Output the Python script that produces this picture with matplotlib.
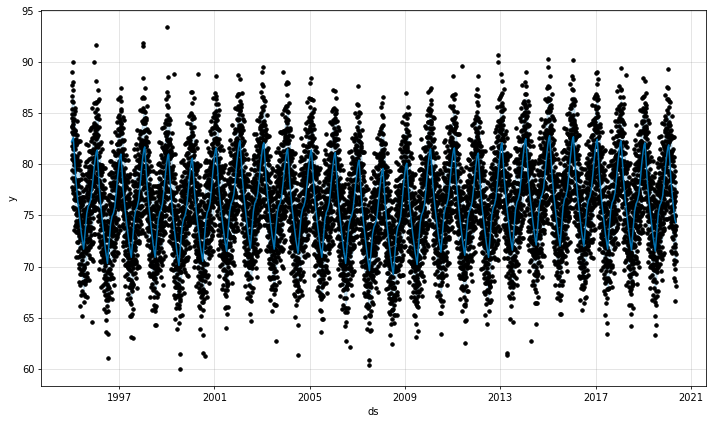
import numpy as np
import matplotlib
matplotlib.use('Agg')
import matplotlib.pyplot as plt
import matplotlib.dates as mdates

plt.rcParams['font.family'] = ['Liberation Sans Narrow', 'DejaVu Sans']

# yearly extremes of the fitted line
years = list(range(1995, 2021))
peak_vals = [82.6, 81.4, 81.0, 81.7, 81.0, 80.6, 81.6, 82.3, 82.1, 81.5,
             81.4, 81.15, 80.4, 79.6, 80.1, 81.5, 81.6, 81.1, 82.1, 82.5,
             82.8, 82.7, 82.45, 82.3, 82.1, 81.9]
trough_vals = [71.7, 70.3, 70.9, 70.9, 70.1, 70.5, 71.5, 71.8, 71.7, 71.3,
               70.9, 70.3, 69.6, 69.2, 70.2, 71.4, 71.1, 70.9, 71.6, 72.1,
               72.0, 71.95, 71.7, 71.6, 71.5, 71.5]
first_val = 82.2
end_year = 2020.37
end_val = 74.3

# seasonal shape: fraction of year -> level between trough (0) and peak (1)
fall_pos = [0.075, 0.12, 0.17, 0.25, 0.33, 0.42]
fall_lvl = [1.0, 0.85, 0.66, 0.46, 0.30, 0.13]
rise_pos = [0.51, 0.58, 0.64, 0.70, 0.76, 0.82, 0.88, 0.94, 1.0, 1.04]
rise_lvl = [0.0, 0.2, 0.36, 0.43, 0.46, 0.52, 0.65, 0.8, 0.92, 0.98]

band_half = 4.0

# daily residual pattern of the observations
res_cycle = [1.5, 3.2, 4.0, 2.3, -0.5, -2.8, -4.5, -3.6, -1.4, 0.8,
             2.6, 5.4, 6.6, 4.3, 1.2, -1.9, -0.3, 1.8, -1.0, -5.0,
             -6.7, -5.3, -2.1, 0.4, 3.5, 1.4, -0.8, 1.0, 4.7, 7.6,
             5.7, 2.2, -1.2, -3.4, -1.7, 0.3, -2.5, -6.0, -8.0, -4.8,
             -0.6, 1.9, 3.8, 0.5, -2.6, -0.9, 2.5, 4.9, 2.9, -0.4,
             -3.8, -6.2, -3.1, 0.1, 1.7, -1.3, -3.9, -1.8, 0.9, 3.1,
             6.1, 3.9, 0.6, -2.2, -4.3, -1.6, 1.3, 3.4, 0.0, -3.2,
             -4.9, -7.3, -4.0, -0.1, 2.7, 4.5, 2.1, -0.5, 2.3, 5.2,
             3.0, -1.0, -3.5, -2.3, 0.8, 3.6, 7.1, 5.0, 1.3, -1.6,
             -4.4, -2.7, -0.3, 1.4, -2.1, -5.6, -3.0]

# isolated extreme points
out_x = [1996.03, 1995.95, 1998.0, 1998.0, 1999.0, 1999.3, 2000.3,
         2003.0, 2003.9, 2005.0, 2011.4, 2012.9, 2012.9, 2015.0, 2018.3,
         1996.55, 1997.6, 1995.85, 1999.55, 1999.57, 2000.5, 2000.6,
         2004.5, 2007.5, 2007.5, 2003.6, 2006.7, 2013.3, 2013.3, 2014.3,
         2011.5, 2019.5, 2017.5]
out_y = [91.7, 90.0, 91.9, 91.6, 93.4, 88.8, 88.8,
         89.0, 89.0, 87.9, 89.6, 90.7, 90.0, 90.3, 88.7,
         61.1, 63.0, 64.6, 61.4, 60.0, 61.5, 61.2,
         61.3, 60.9, 60.4, 62.7, 62.1, 61.5, 61.3, 62.7,
         62.5, 63.3, 63.4]

tick_years = [1997, 2001, 2005, 2009, 2013, 2017, 2021]

# knots of the fitted line
kx = [1995.0]
ky = [first_val]
for i, yr in enumerate(years):
    P, T = peak_vals[i], trough_vals[i]
    for p, l in zip(fall_pos, fall_lvl):
        if yr + p < end_year:
            kx.append(yr + p)
            ky.append(T + (P - T) * l)
    if i + 1 < len(years):
        Pn = peak_vals[i + 1]
        for p, l in zip(rise_pos, rise_lvl):
            kx.append(yr + p)
            ky.append(T + (Pn - T) * l)
kx.append(end_year)
ky.append(end_val)
kx = np.array(kx)
ky = np.array(ky)

d0 = mdates.date2num(np.datetime64('1995-01-01'))
def yr2num(v):
    return d0 + (np.asarray(v) - 1995.0) * 365.25

knum = yr2num(kx)
days = np.arange(knum[0], knum[-1] + 1, 1.0)
obs = np.interp(days, knum, ky) + np.array([res_cycle[i % len(res_cycle)] for i in range(len(days))])

fig = plt.figure(figsize=(10, 424 / 71.2), dpi=71.2)
ax = fig.add_subplot(111)
ax.plot(days, obs, 'k.', markersize=7)
ax.plot(yr2num(out_x), out_y, 'k.', markersize=7)
ax.plot(knum, ky, ls='-', c='#0072B2', lw=1.5)
ax.fill_between(knum, ky - band_half, ky + band_half, color='#0072B2', alpha=0.2)
ax.grid(True, which='major', c='gray', ls='-', lw=1, alpha=0.2)
ax.xaxis_date()
ax.set_xticks([mdates.date2num(np.datetime64('%d-01-01' % y)) for y in tick_years])
ax.set_xticklabels([str(y) for y in tick_years])
ax.set_yticks([60, 65, 70, 75, 80, 85, 90, 95])
ax.set_xlabel('ds')
ax.set_ylabel('y')
fig.subplots_adjust(left=0.058, right=0.9916, top=0.976, bottom=0.09)
fig.savefig('out.png', dpi=71.2)
